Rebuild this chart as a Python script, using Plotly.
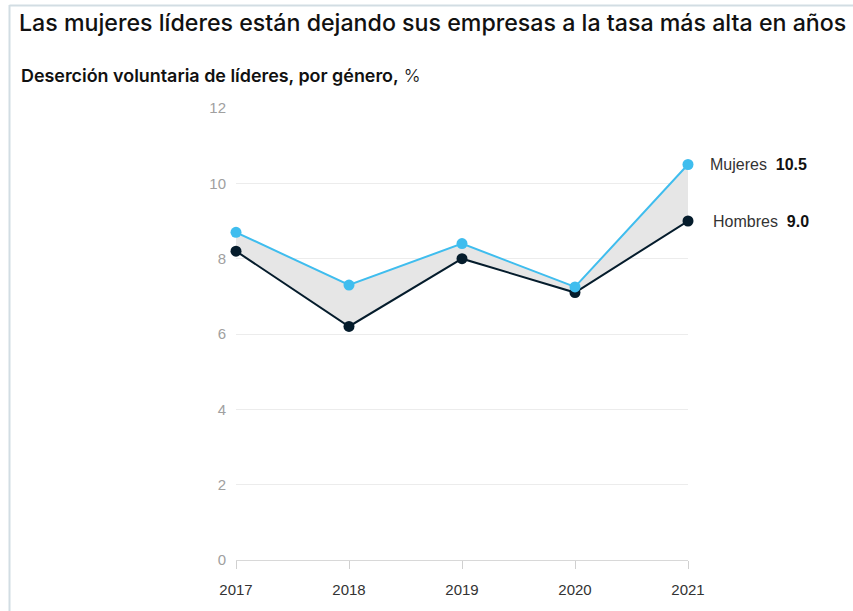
import plotly.graph_objects as go

years = [2017, 2018, 2019, 2020, 2021]
mujeres = [8.7, 7.3, 8.4, 7.25, 10.5]
hombres = [8.2, 6.2, 8.0, 7.1, 9.0]
y_ticks = [0, 2, 4, 6, 8, 10, 12]
series_names = ["Mujeres", "Hombres"]

W, H = 853, 611
ML, MR, MT, MB = 236, 165, 108, 51
PW = W - ML - MR
PH = H - MT - MB


def px_x(x):
    return (x - ML) / PW


def px_y(y):
    return (H - MB - y) / PH


C_MUJ = "#3fbdee"
C_HOM = "#051c2c"
FONT = "Liberation Sans, Arial, sans-serif"
HFONT = "Inter, Liberation Sans, sans-serif"

fig = go.Figure()

# fill between the two series
fig.add_trace(go.Scatter(x=years, y=hombres, mode="lines", line=dict(width=0),
                         showlegend=False, hoverinfo="skip"))
fig.add_trace(go.Scatter(x=years, y=mujeres, mode="lines", line=dict(width=0),
                         fill="tonexty", fillcolor="#e6e6e6",
                         showlegend=False, hoverinfo="skip"))

fig.add_trace(go.Scatter(x=years, y=hombres, mode="lines+markers", name=series_names[1],
                         line=dict(color=C_HOM, width=2),
                         marker=dict(color=C_HOM, size=11), cliponaxis=False,
                         showlegend=False))
fig.add_trace(go.Scatter(x=years, y=mujeres, mode="lines+markers", name=series_names[0],
                         line=dict(color=C_MUJ, width=2),
                         marker=dict(color=C_MUJ, size=11), cliponaxis=False,
                         showlegend=False))

annotations = [
    dict(x=years[-1], y=mujeres[-1], xref="x", yref="y", xanchor="left", yanchor="middle",
         xshift=20, showarrow=False,
         text=f"{series_names[0]}  <span style='color:#111'><b>{mujeres[-1]:.1f}</b></span>",
         font=dict(family=FONT, size=16, color="#333")),
    dict(x=years[-1], y=hombres[-1], xref="x", yref="y", xanchor="left", yanchor="middle",
         xshift=23, showarrow=False,
         text=f"{series_names[1]}  <span style='color:#111'><b>{hombres[-1]:.1f}</b></span>",
         font=dict(family=FONT, size=16, color="#333")),
    dict(x=px_x(19), y=px_y(75), xref="paper", yref="paper", xanchor="left", yanchor="middle",
         showarrow=False,
         text="<span style='font-weight:600'>Deserción voluntaria de líderes, por género,</span> "
              "<span style='font-weight:300'>%</span>",
         font=dict(family=HFONT, size=17.9, color="#111")),
]

shapes = [
    dict(type="line", xref="paper", yref="paper", x0=px_x(9.5), x1=px_x(9.5),
         y0=px_y(5), y1=px_y(611), line=dict(color="#d2dde3", width=2)),
    dict(type="line", xref="paper", yref="paper", x0=px_x(9.5), x1=px_x(853),
         y0=px_y(5.5), y1=px_y(5.5), line=dict(color="#d2dde3", width=2)),
]

fig.update_layout(
    width=W, height=H,
    margin=dict(l=ML, r=MR, t=MT, b=MB),
    paper_bgcolor="white", plot_bgcolor="white",
    title=dict(text="Las mujeres líderes están dejando sus empresas a la tasa más alta en años",
               x=19 / W, xanchor="left", y=1 - 23 / H, yanchor="middle",
               font=dict(family=HFONT, size=23.2, color="#111", weight=500)),
    annotations=annotations,
    shapes=shapes,
    xaxis=dict(range=[years[0], years[-1]], tickvals=years, ticktext=[str(y) for y in years],
               showgrid=False, zeroline=False, showline=False,
               ticks="outside", ticklen=8, tickcolor="#d0d0d0", tickwidth=1,
               ticklabelstandoff=8,
               tickfont=dict(family=FONT, size=15, color="#333")),
    yaxis=dict(range=[0, 12], tickvals=y_ticks, showgrid=True, gridcolor="#ececec",
               gridwidth=1, zeroline=True, zerolinecolor="#d8d8d8", zerolinewidth=1,
               showline=False, ticks="", ticklabelstandoff=9,
               tickfont=dict(family=FONT, size=15, color="#a0a0a0")),
    showlegend=False,
)

fig.write_html("out.html")
